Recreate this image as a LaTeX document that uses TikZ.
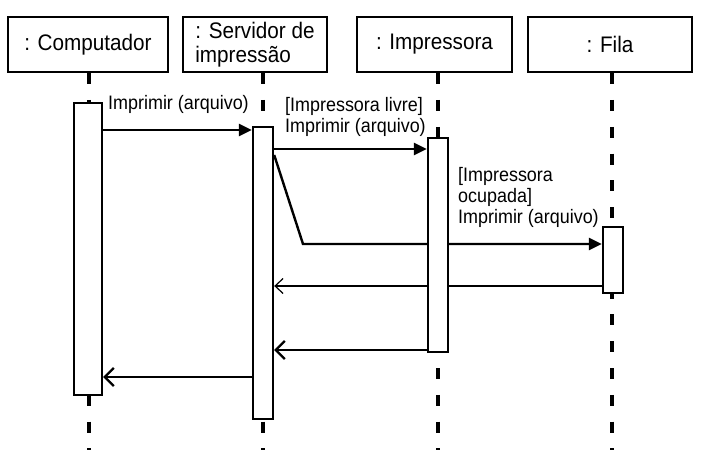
\documentclass[tikz,border=0pt]{standalone}
\usepackage{fontspec}
\setmainfont{Liberation Sans}
\newfontfamily\condfont[FakeStretch=0.92]{Liberation Sans}
\usetikzlibrary{arrows.meta,backgrounds}
\begin{document}
\begin{tikzpicture}[x=1pt,y=-1pt,
  obj/.style={draw, line width=2.4pt, minimum height=55pt, inner sep=0pt, font=\condfont\fontsize{22.5}{24}\selectfont, align=left, fill=white},
  act/.style={draw, line width=2.4pt, fill=white, inner sep=0pt},
  life/.style={line width=4pt, dash pattern=on 11pt off 15.8pt},
  msg/.style={line width=2.4pt, -{Triangle[length=13pt,width=12pt]}},
  ret/.style={line width=2.4pt, -{Straight Barb[length=9pt,width=18pt,line width=2.2pt]}},
  thinret/.style={line width=1.2pt, -{Straight Barb[length=8pt,width=15pt,line width=1.2pt]}},
  lbl/.style={font=\condfont\fontsize{19.5}{21}\selectfont, inner sep=0pt, anchor=west, align=left}
]
\useasboundingbox (0,0) rectangle (702,465);

% object boxes
\node[obj, minimum width=160pt] (comp) at (88,44.5) {: Computador};
\node[obj, minimum width=144pt] (serv) at (255,44.5) {\raisebox{-3pt}{: Servidor de}\\\raisebox{-3pt}{impressão}};
\node[obj, minimum width=155pt] (impr) at (434.5,44.5) {: Impressora};
\node[obj, minimum width=164pt] (fila) at (610,44.5) {: Fila};

% lifeline ends
\coordinate (ce) at (89,450);
\coordinate (se) at (263,450);
\coordinate (ie) at (438,450);
\coordinate (fe) at (612,450);

% activation boxes
\node[act, minimum width=28pt, minimum height=292pt] (ca) at (88,249) {};
\node[act, minimum width=20pt, minimum height=292pt] (sa) at (263,273) {};
\node[act, minimum width=20pt, minimum height=214pt] (ia) at (438,245) {};
\node[act, minimum width=20pt, minimum height=66pt] (fa) at (613,260) {};

% message rows
\coordinate (y1) at (0,130);
\coordinate (y2) at (0,149);
\coordinate (y3a) at (0,155);
\coordinate (y3) at (0,244);
\coordinate (bend) at (303,244);
\coordinate (y4) at (0,286);
\coordinate (y5) at (0,350);
\coordinate (y6) at (0,377);

% labels
\node[lbl] (l1) at (108,104) {Imprimir (arquivo)};
\node[lbl] (l2) at (285,117) {[Impressora livre]\\Imprimir (arquivo)};
\node[lbl] (l3) at (458,197) {[Impressora\\ocupada]\\Imprimir (arquivo)};

\begin{scope}[on background layer]
  \fill[white] (0,0) rectangle (702,465);
  \draw[life] (comp.south -| ce) -- (ce);
  \draw[life] (serv.south -| se) -- (se);
  \draw[life] (impr.south -| ie) -- (ie);
  \draw[life] (fila.south -| fe) -- (fe);
  \draw[msg] (ca.east |- y1) -- (sa.west |- y1);
  \draw[msg] (sa.east |- y2) -- (ia.west |- y2);
  \draw[msg] (sa.east |- y3a) -- (bend) -- (fa.west |- y3);
  \draw[thinret] (fa.west |- y4) -- (sa.east |- y4);
  \draw[ret] (ia.west |- y5) -- (sa.east |- y5);
  \draw[ret] (sa.west |- y6) -- (ca.east |- y6);
\end{scope}
\end{tikzpicture}
\end{document}
